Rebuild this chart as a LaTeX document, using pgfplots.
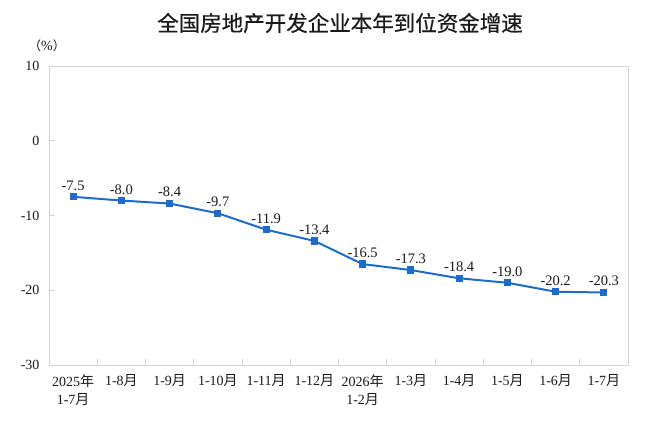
\documentclass[border=0pt]{standalone}
\usepackage{fontspec}
\setmainfont{Liberation Serif}
\newfontfamily\cjk{Noto Sans CJK SC}
\newfontfamily\cjktitle[FakeBold=0.6]{Noto Sans CJK SC}
\usepackage{pgfplots}
\pgfplotsset{compat=1.18}
\definecolor{lineblue}{HTML}{1F6BC8}
\definecolor{framegray}{HTML}{D2D2D2}
\definecolor{txt}{HTML}{1A1A1A}
\begin{document}
\begin{tikzpicture}
\useasboundingbox (0pt,0pt) rectangle (650pt,433pt);
\begin{axis}[at={(49pt,68pt)}, anchor=south west, scale only axis,
  width=579pt, height=299pt,
  xmin=-0.5, xmax=11.5, ymin=-30, ymax=10,
  ytick={-30,-20,-10,0,10},
  yticklabels={-30,-20,-10,0,10},
  xtick={0.5,1.5,...,10.5}, xticklabels={},
  extra x ticks={0,1,...,11},
  extra x tick labels={{2025{\cjk 年}\\1-7{\cjk 月}},{1-8{\cjk 月}},{1-9{\cjk 月}},{1-10{\cjk 月}},{1-11{\cjk 月}},{1-12{\cjk 月}},{2026{\cjk 年}\\1-2{\cjk 月}},{1-3{\cjk 月}},{1-4{\cjk 月}},{1-5{\cjk 月}},{1-6{\cjk 月}},{1-7{\cjk 月}}},
  extra x tick style={major tick length=0pt, xticklabel style={align=center, font=\fontsize{14}{18}\selectfont, text=txt, yshift=-6pt}},
  axis line style={framegray, line width=0.9pt},
  tick style={framegray, line width=0.9pt},
  tick align=inside, major tick length=6pt,
  xtick pos=bottom, ytick pos=left,
  yticklabel style={font=\fontsize{14}{16}\selectfont, text=txt, xshift=-6pt},
  point meta=explicit symbolic,
  nodes near coords,
  every node near coord/.style={font=\fontsize{14.5}{16}\selectfont, text=txt, anchor=south, yshift=2pt},
  clip=false,
]
\addplot[color=lineblue, line width=2pt, mark=square*, mark size=2.6pt, mark options={solid}]
  table[meta=label] {
x y label
0 -7.5 -7.5
1 -8.0 -8.0
2 -8.4 -8.4
3 -9.7 -9.7
4 -11.9 -11.9
5 -13.4 -13.4
6 -16.5 -16.5
7 -17.3 -17.3
8 -18.4 -18.4
9 -19.0 -19.0
10 -20.2 -20.2
11 -20.3 -20.3
};
\end{axis}
\node[font=\cjktitle\fontsize{21.5}{23}\selectfont, text=txt] at (340pt,410pt) {全国房地产开发企业本年到位资金增速};
\node[font=\fontsize{14}{16}\selectfont, text=txt] at (47pt,387pt) {{\cjk\fontsize{12.5}{14}\selectfont （}\%{\cjk\fontsize{12.5}{14}\selectfont ）}};
\end{tikzpicture}
\end{document}
